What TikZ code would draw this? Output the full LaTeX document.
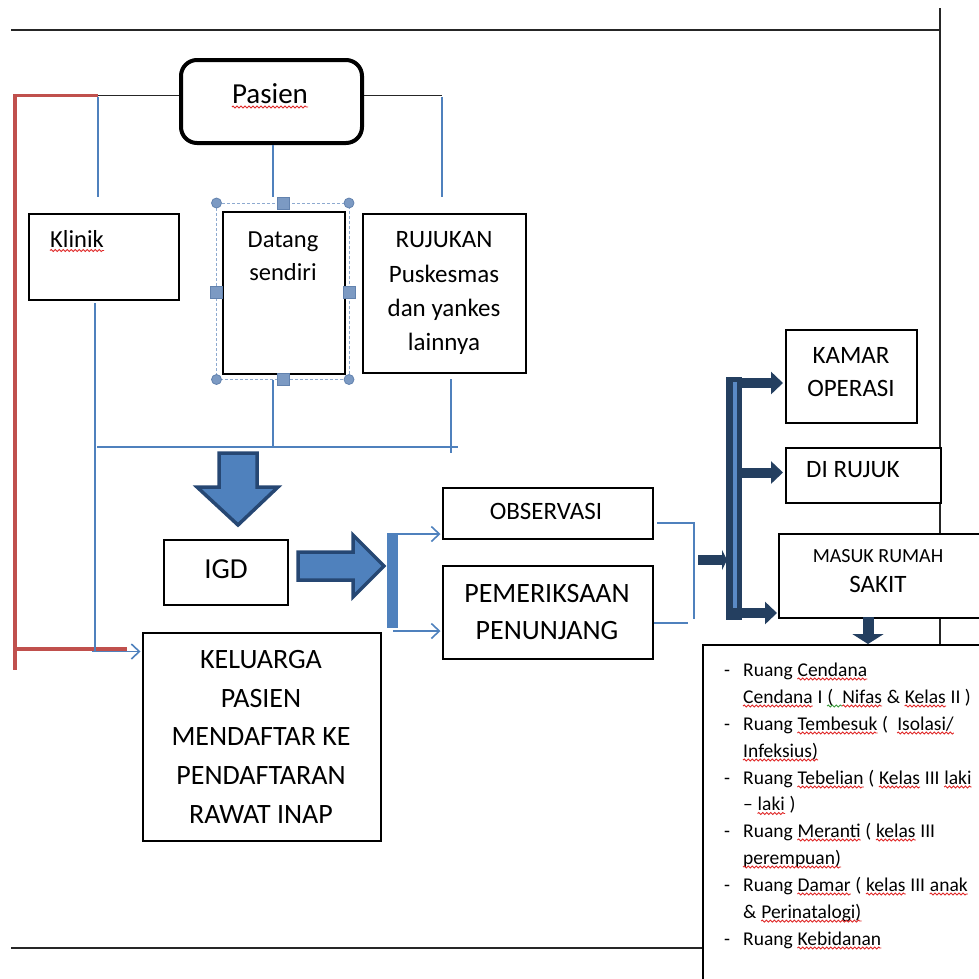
\documentclass[tikz,border=0pt]{standalone}
\usepackage{fontspec}
\setmainfont{Carlito}
\usetikzlibrary{arrows.meta,decorations.pathmorphing}
\definecolor{bline}{HTML}{4F81BD}
\definecolor{rline}{HTML}{C0504D}
\definecolor{bfill}{HTML}{4F81BD}
\definecolor{bdark}{HTML}{264773}
\definecolor{navy}{HTML}{243F60}
\definecolor{stripe}{HTML}{5A8AC6}
\definecolor{selc}{HTML}{8EAAD0}
\definecolor{handlef}{HTML}{7C9AC3}
\definecolor{handled}{HTML}{6282AE}
\definecolor{squig}{HTML}{E02828}
\definecolor{gsquig}{HTML}{3A9A3A}
\newcommand{\mkseg}[3]{\node[txtl, fL] (#1) at (#2.base east) {#3\null};}
\newcommand{\mksq}[1]{\draw[wav] ([yshift=-3pt]#1.base west) -- ([yshift=-3pt]#1.base east);}
\begin{document}
\begin{tikzpicture}[x=1pt,y=-1pt,
  box/.style={draw=black, line width=1.7pt, fill=white, inner sep=0pt, anchor=north west, rectangle},
  txt/.style={inner sep=0pt, anchor=base, text=black},
  txtl/.style={inner sep=0pt, anchor=base west, text=black},
  bl/.style={draw=bline, line width=1.6pt},
  rl/.style={draw=rline, line width=3.8pt},
  framel/.style={draw=black!85, line width=1.6pt},
  blk/.style={draw=black!85, line width=1.5pt},
  openarr/.style={bl, -{Straight Barb[length=8pt,width=15pt]}, shorten >=1.5pt},
  navyarr/.style={draw=navy, line width=10pt, -{Triangle[length=12pt,width=22pt]}},
  bigarr/.style={fill=bfill, draw=bdark, line width=3.5pt, line join=miter},
  wav/.style={draw=squig, line width=0.9pt, decorate, decoration={snake, amplitude=1pt, segment length=4pt}},
  gwav/.style={wav, draw=gsquig},
  fA/.style={font=\fontsize{29}{35}\selectfont},
  fB/.style={font=\fontsize{28}{34}\selectfont},
  fC/.style={font=\fontsize{25}{30}\selectfont},
  fD/.style={font=\fontsize{24.5}{30}\selectfont},
  fE/.style={font=\fontsize{20}{24}\selectfont},
  fL/.style={font=\fontsize{19.5}{24}\selectfont},
  handle/.style={fill=handlef, draw=handled, line width=0.8pt}
]
\useasboundingbox (0,0) rectangle (979,978);

% page frame lines
\draw[framel] (11,30) -- (940,30);
\draw[framel] (940,8) -- (940,978);
\draw[framel] (11,948) -- (702,948);

% boxes
\node[box, line width=4pt, rounded corners=16pt, minimum width=181pt, minimum height=83pt] (pasien) at (179,58) {};
\node[box, minimum width=150pt, minimum height=86pt] (klinik) at (28,213) {};
\node[box, minimum width=122pt, minimum height=162pt] (datang) at (222,211) {};
\node[box, minimum width=163pt, minimum height=159pt] (rujukan) at (362,213) {};
\node[box, minimum width=124pt, minimum height=65pt] (igd) at (163,539) {};
\node[box, minimum width=238pt, minimum height=208pt] (keluarga) at (142,632) {};
\node[box, minimum width=210pt, minimum height=51pt] (obs) at (442,487) {};
\node[box, minimum width=210pt, minimum height=93pt] (pem) at (442,565) {};
\node[box, minimum width=131pt, minimum height=93pt] (kamar) at (785,329) {};
\node[box, minimum width=155pt, minimum height=55pt] (dirujuk) at (785,447) {};
\node[box, minimum width=220pt, minimum height=84pt] (masuk) at (778,533) {};
\node[box, minimum width=300pt, minimum height=340pt] (list) at (702,644) {};

% texts
\node[txt, fA] (tpasien) at (270,103) {Pasien};
\draw[wav] ([yshift=-4pt]tpasien.base west) -- ([yshift=-4pt]tpasien.base east);
\node[txtl, fD] (tklinik) at (50,247) {Klinik};
\draw[wav] ([yshift=-3.5pt]tklinik.base west) -- ([yshift=-3.5pt]tklinik.base east);
\node[txt, fD] (tdat1) at (283,247) {Datang};
\node[txt, fD] (tdat2) at (283,280) {sendiri};
\node[txt, fC] (tru1) at (444,247) {RUJUKAN};
\node[txt, fC] (tru2) at (444,282) {Puskesmas};
\node[txt, fC] (tru3) at (444,316) {dan yankes};
\node[txt, fC] (tru4) at (444,350) {lainnya};
\node[txt, fA] (tigd) at (226,578) {IGD};
\node[txt, fC] (tobs) at (546,519) {OBSERVASI};
\node[txt, fB] (tpem1) at (547,602) {PEMERIKSAAN};
\node[txt, fB] (tpem2) at (547,639) {PENUNJANG};
\node[txt, fB] (tkel1) at (261,668) {KELUARGA};
\node[txt, fB] (tkel2) at (261,707) {PASIEN};
\node[txt, fB] (tkel3) at (261,745) {MENDAFTAR KE};
\node[txt, fB] (tkel4) at (261,784) {PENDAFTARAN};
\node[txt, fB] (tkel5) at (261,823) {RAWAT INAP};
\node[txt, fC] (tkam1) at (851,363) {KAMAR};
\node[txt, fC] (tkam2) at (851,396) {OPERASI};
\node[txtl, fC] (tdir) at (806,477) {DI RUJUK};
\node[txt, fE] (tmas1) at (878,562) {MASUK RUMAH};
\node[txt, fC] (tmas2) at (878,592) {SAKIT};

% list of wards
\foreach \yy/\nm in {676/d1,730/d3,784/d5,837/d7,891/d9,945/d11}
  \node[txtl, fL] (\nm) at (724,\yy) {-};
% line 1
\node[txtl, fL] (l1a) at (743,676) {Ruang\ \null};
\mkseg{l1b}{l1a}{Cendana} \mksq{l1b}
% line 2
\node[txtl, fL] (l2a) at (743,703) {Cendana}; \mksq{l2a}
\mkseg{l2b}{l2a}{\ I\ }
\mkseg{l2c}{l2b}{(\ \ }
\draw[gwav] ([yshift=-3pt]l2c.base west) -- ([yshift=-3pt]l2c.base east);
\mkseg{l2d}{l2c}{Nifas} \mksq{l2d}
\mkseg{l2e}{l2d}{\ \&\ }
\mkseg{l2f}{l2e}{Kelas} \mksq{l2f}
\mkseg{l2g}{l2f}{\ II )}
% line 3
\node[txtl, fL] (l3a) at (743,730) {Ruang\ \null};
\mkseg{l3b}{l3a}{Tembesuk} \mksq{l3b}
\mkseg{l3c}{l3b}{\ (\ \ }
\mkseg{l3d}{l3c}{Isolasi/} \mksq{l3d}
% line 4
\node[txtl, fL] (l4a) at (743,757) {Infeksius)}; \mksq{l4a}
% line 5
\node[txtl, fL] (l5a) at (743,784) {Ruang\ \null};
\mkseg{l5b}{l5a}{Tebelian} \mksq{l5b}
\mkseg{l5c}{l5b}{\ (\ }
\mkseg{l5d}{l5c}{Kelas} \mksq{l5d}
\mkseg{l5e}{l5d}{\ III\ }
\mkseg{l5f}{l5e}{laki} \mksq{l5f}
% line 6
\node[txtl, fL] (l6a) at (743,810.5) {--\ \null};
\mkseg{l6b}{l6a}{laki} \mksq{l6b}
\mkseg{l6c}{l6b}{\ )}
% line 7
\node[txtl, fL] (l7a) at (743,837) {Ruang\ \null};
\mkseg{l7b}{l7a}{Meranti} \mksq{l7b}
\mkseg{l7c}{l7b}{\ (\ }
\mkseg{l7d}{l7c}{kelas} \mksq{l7d}
\mkseg{l7e}{l7d}{\ III}
% line 8
\node[txtl, fL] (l8a) at (743,864) {perempuan)}; \mksq{l8a}
% line 9
\node[txtl, fL] (l9a) at (743,891) {Ruang\ \null};
\mkseg{l9b}{l9a}{Damar} \mksq{l9b}
\mkseg{l9c}{l9b}{\ (\ }
\mkseg{l9d}{l9c}{kelas} \mksq{l9d}
\mkseg{l9e}{l9d}{\ III\ }
\mkseg{l9f}{l9e}{anak} \mksq{l9f}
% line 10
\node[txtl, fL] (l10a) at (743,918) {\&\ \null};
\mkseg{l10b}{l10a}{Perinatalogi)} \mksq{l10b}
% line 11
\node[txtl, fL] (l11a) at (743,945) {Ruang\ \null};
\mkseg{l11b}{l11a}{Kebidanan} \mksq{l11b}

% selection frame around Datang sendiri
\draw[selc, line width=1pt, dash pattern=on 3pt off 2pt] (216.5,203) rectangle (349,379.5);
\foreach \p in {(216.5,203),(349,203),(216.5,379.5),(349,379.5)}
  \draw[handle] \p circle (5pt);
\foreach \p in {(283,203),(283,379.5),(216.5,292),(349,292)}
  \draw[handle] \p ++(-6,-6) rectangle ++(12,12);

% connectors from Pasien
\coordinate (jl) at (98,95.5);
\coordinate (jr) at (442,95.5);
\coordinate (rtop) at (15,95.5);
\coordinate (rmid) at (15,649);
\coordinate (rbot) at (15,670);
\draw[blk] (jl) -- (jl -| pasien.west);
\draw[blk] (jr -| pasien.east) -- (jr);
\draw[rl] (jl) -- (rtop) -- (rbot);
\draw[rl] (rmid) -- (127,649);
\draw[bl] ([yshift=-1pt]jl) -- (98,197);
\draw[bl] ([yshift=-1pt]jr) -- (442,197);
\draw[bl] (pasien.south -| 273,0) -- (273,197);

% lines below Klinik / Datang / Rujukan
\coordinate (kv) at (95,303);
\coordinate (hb1) at (97,447);
\coordinate (hb2) at (458,447);
\draw[bl] (kv) -- (95,652);
\draw[bl] (hb1) -- (hb2);
\draw[bl] (273,380) -- (273,0 |- hb1);
\draw[bl] (451,379) -- (451,453);
\draw[openarr] (92,651.5) -- (keluarga.west |- 0,651.5);

% big block arrows
\draw[bigarr] (219,453) -- (257,453) -- (257,487) -- (278,487) -- (238,525) -- (197,487) -- (219,487) -- cycle;
\draw[bigarr] (298,552) -- (353,552) -- (353,535) -- (384,566) -- (353,597) -- (353,580) -- (298,580) -- cycle;

% bracket to OBSERVASI / PEMERIKSAAN
\fill[bfill] (387,533) rectangle (398,628);
\draw[openarr] (398,534) -- (obs.west |- 0,534);
\draw[openarr] (393,631) -- (pem.west |- 0,631);

% bracket out of OBSERVASI / PEMERIKSAAN
\draw[bl] (657,523) -- (694,523) -- (694,619);
\draw[bl] (pem.east |- 0,623) -- (688,623);

% navy distribution arrows
\draw[draw=navy, line width=10pt, -{Triangle[length=5pt,width=20pt]}] (698,560) -- (727,560);
\fill[navy] (726,377) rectangle (742,620);
\fill[stripe] (733,382) rectangle (737,608);
\draw[navyarr, shorten >=2pt] (740,383) -- (kamar.west |- 0,383);
\draw[navyarr, shorten >=2pt] (740,472.5) -- (dirujuk.west |- 0,472.5);
\draw[navyarr, shorten >=1pt] (740,613) -- (masuk.west |- 0,613);
\draw[draw=navy, line width=11pt, -{Triangle[length=10pt,width=31pt]}] (868,617) -- (868,0 |- list.north);
\end{tikzpicture}
\end{document}
